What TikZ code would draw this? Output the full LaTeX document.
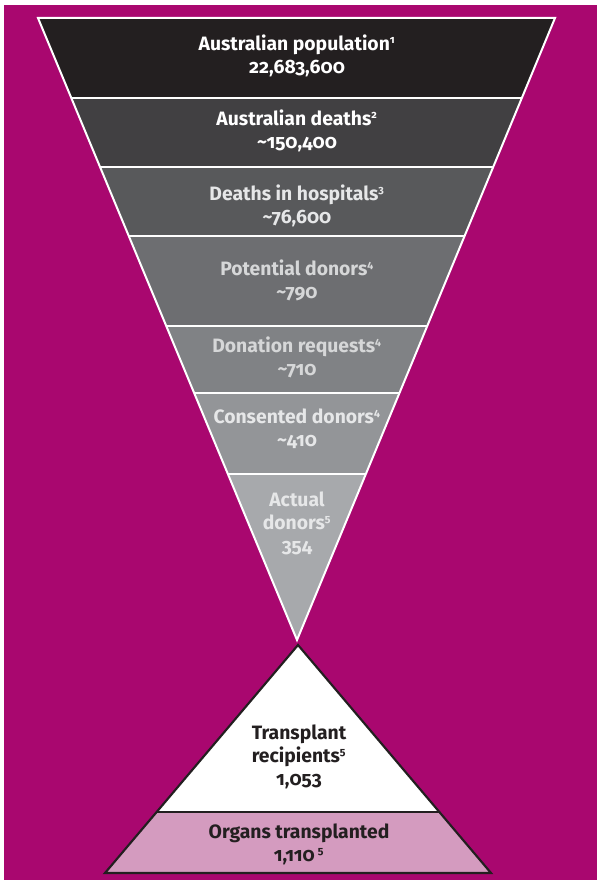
\documentclass[tikz,border=0pt]{standalone}
\usepackage{fontspec}
\setmainfont{Fira Sans}[Numbers=OldStyle, RawFeature={+onum}]
\usetikzlibrary{positioning,calc}
\definecolor{bgmag}{HTML}{A9076F}
\definecolor{bandA}{HTML}{231F20}
\definecolor{bandB}{HTML}{414042}
\definecolor{bandC}{HTML}{58595B}
\definecolor{bandD}{HTML}{6D6E71}
\definecolor{bandE}{HTML}{808285}
\definecolor{bandF}{HTML}{939598}
\definecolor{bandG}{HTML}{A7A9AC}
\definecolor{txtlight}{HTML}{E6E7E8}
\definecolor{txtmid}{HTML}{D6D7D8}
\definecolor{organpink}{HTML}{D49BBF}
\definecolor{outlinedark}{HTML}{231F20}
\newcommand{\fnote}[1]{\textsuperscript{\fontsize{8}{8}\selectfont #1}}
\tikzset{
  lbl/.style   ={font=\bfseries\fontsize{14.5}{17.3}\selectfont, align=center, inner sep=0pt},
  sepline/.style={draw=white, line width=2pt},
  rim/.style   ={draw=white, line width=1.5pt, line join=miter},
  pyr/.style   ={draw=outlinedark, line width=1.6pt, line join=miter},
}

\begin{document}
\begin{tikzpicture}[x=0.75pt, y=-0.75pt]
\useasboundingbox (0,0) rectangle (597,880);
\fill[bgmag] (4,5) rectangle (597,880);

% ------------------------------------------------------------- funnel
\coordinate (tl) at (38,18);
\coordinate (tr) at (555,18);
\coordinate (tip) at (297,640);
\begin{scope}
  \clip (tl) -- (tr) -- (tip) -- cycle;
  \foreach \ya/\yb/\col in {18/98/bandA, 98/167/bandB, 167/236/bandC,
      236/326/bandD, 326/393/bandE, 393/474/bandF, 474/640/bandG} {
    \fill[\col] (0,\ya) rectangle (597,\yb);
  }
  \foreach \y in {98,167,236,326,393,474}
    \draw[sepline] (0,\y) -- (597,\y);
\end{scope}
\draw[rim] (tl) -- (tr) -- (tip) -- cycle;

\node[lbl, text=white] (pop) at (297,56)
  {Australian population\fnote{1}\\22,683,600};
\node[lbl, text=white] (deaths) at (297,131)
  {Australian deaths\fnote{2}\\\textasciitilde150,400};
\node[lbl, text=txtlight] (hosp) at (297,206)
  {Deaths in hospitals\fnote{3}\\\textasciitilde76,600};
\node[lbl, text=txtmid] (potential) at (297,280)
  {Potential donors\fnote{4}\\\textasciitilde790};
\node[lbl, text=txtmid] (requests) at (297,357)
  {Donation requests\fnote{4}\\\textasciitilde710};
\node[lbl, text=txtlight] (consented) at (297,429)
  {Consented donors\fnote{4}\\\textasciitilde410};
\node[lbl, text=txtlight] (actual) at (297,523)
  {Actual\\donors\fnote{5}\\354};

% ------------------------------------------------------------- pyramid
\coordinate (apex) at (298,645);
\coordinate (bl) at (105,873);
\coordinate (br) at (491,873);
\coordinate (ml) at ($(apex)!0.7325!(bl)$);
\coordinate (mr) at ($(apex)!0.7325!(br)$);
\fill[organpink] (ml) -- (mr) -- (br) -- (bl) -- cycle;
\fill[white] (apex) -- (mr) -- (ml) -- cycle;
\draw[pyr] (apex) -- (br) -- (bl) -- cycle;
\draw[pyr] (ml) -- (mr);

\node[lbl, text=outlinedark] (recip) at (299,757)
  {Transplant\\recipients\fnote{5}\\1,053};
\node[lbl, text=outlinedark] (organs) at (299,844)
  {Organs transplanted\\1,110\,\fnote{5}};

\end{tikzpicture}
\end{document}
